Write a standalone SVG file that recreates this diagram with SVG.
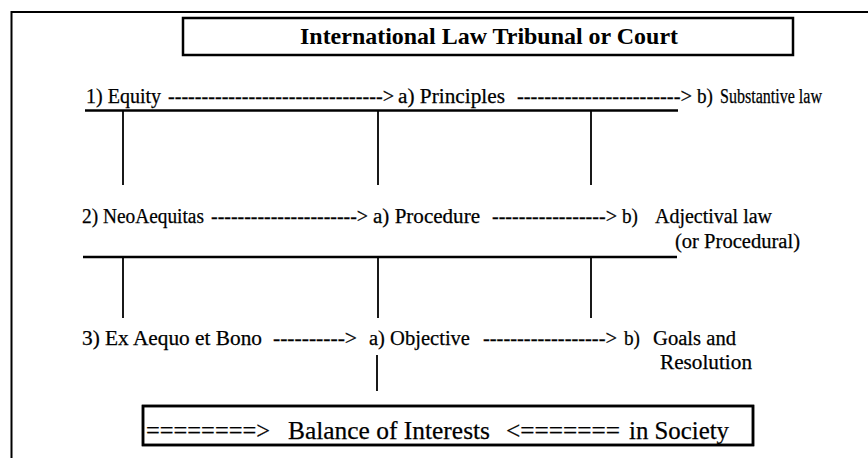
<svg xmlns="http://www.w3.org/2000/svg" width="868" height="458" viewBox="0 0 868 458">
  <style>
    .t { font-family: "Liberation Serif", "Times New Roman", serif; font-size: 20.5px; fill: #000; stroke: #000; stroke-width: 0.25; }
    .title { font-family: "Liberation Serif", "Times New Roman", serif; font-size: 23px; font-weight: bold; fill: #000; }
    .big { font-family: "Liberation Serif", "Times New Roman", serif; font-size: 25.5px; fill: #000; stroke: #000; stroke-width: 0.25; }
    .box { fill: #fff; stroke: #000; stroke-width: 2.5; }
    .bar { stroke: #000; stroke-width: 2.6; fill: none; }
    .rule { stroke: #000; stroke-width: 1.8; fill: none; }
    .frame { stroke: #000; stroke-width: 2; fill: none; }
  </style>
  <defs>
    <clipPath id="bottomClip">
      <rect x="143" y="406" width="610" height="38"/>
    </clipPath>
  </defs>

  <rect x="0" y="0" width="868" height="458" fill="#fff"/>

  <!-- outer frame: top and left edges only -->
  <path class="frame" d="M11.5 458 V12 H868"/>

  <!-- heading -->
  <g id="title">
    <rect class="box" x="183" y="18" width="610" height="37"/>
    <text class="title" x="300" y="43.5" textLength="378" lengthAdjust="spacingAndGlyphs">International Law Tribunal or Court</text>
  </g>

  <!-- row 1 -->
  <g id="row1">
    <text class="t" x="86" y="102.5" textLength="75" lengthAdjust="spacingAndGlyphs">1) Equity</text>
    <text class="t" x="168" y="102.5" textLength="226" lengthAdjust="spacingAndGlyphs">--------------------------------&gt;</text>
    <text class="t" x="398" y="102.5" textLength="107" lengthAdjust="spacingAndGlyphs">a) Principles</text>
    <text class="t" x="517" y="102.5" textLength="175" lengthAdjust="spacingAndGlyphs">------------------------&gt;</text>
    <text class="t" x="697" y="102.5" textLength="16" lengthAdjust="spacingAndGlyphs">b)</text>
    <text class="t" x="720" y="102.5" textLength="102" lengthAdjust="spacingAndGlyphs">Substantive law</text>
  </g>

  <!-- row 2 -->
  <g id="row2">
    <text class="t" x="82" y="223" textLength="122" lengthAdjust="spacingAndGlyphs">2) NeoAequitas</text>
    <text class="t" x="211" y="223" textLength="157" lengthAdjust="spacingAndGlyphs">----------------------&gt;</text>
    <text class="t" x="373" y="223" textLength="107" lengthAdjust="spacingAndGlyphs">a) Procedure</text>
    <text class="t" x="492" y="223" textLength="125" lengthAdjust="spacingAndGlyphs">-----------------&gt;</text>
    <text class="t" x="622" y="223" textLength="16" lengthAdjust="spacingAndGlyphs">b)</text>
    <text class="t" x="655" y="223" textLength="117" lengthAdjust="spacingAndGlyphs">Adjectival law</text>
    <text class="t" x="675" y="248" textLength="125" lengthAdjust="spacingAndGlyphs">(or Procedural)</text>
  </g>

  <!-- row 3 -->
  <g id="row3">
    <text class="t" x="82" y="345" textLength="180" lengthAdjust="spacingAndGlyphs">3) Ex Aequo et Bono</text>
    <text class="t" x="273" y="345" textLength="84" lengthAdjust="spacingAndGlyphs">----------&gt;</text>
    <text class="t" x="369" y="345" textLength="101" lengthAdjust="spacingAndGlyphs">a) Objective</text>
    <text class="t" x="483" y="345" textLength="134" lengthAdjust="spacingAndGlyphs">------------------&gt;</text>
    <text class="t" x="624" y="345" textLength="16" lengthAdjust="spacingAndGlyphs">b)</text>
    <text class="t" x="653" y="345" textLength="83" lengthAdjust="spacingAndGlyphs">Goals and</text>
    <text class="t" x="660" y="369" textLength="92" lengthAdjust="spacingAndGlyphs">Resolution</text>
  </g>

  <!-- connecting bars and uprights -->
  <g id="connectors">
    <line class="bar" x1="85" y1="110.5" x2="678" y2="110.5"/>
    <line class="rule" x1="123" y1="111" x2="123" y2="185"/>
    <line class="rule" x1="378" y1="111" x2="378" y2="185"/>
    <line class="rule" x1="591" y1="111" x2="591" y2="185"/>

    <line class="bar" x1="83" y1="257" x2="677" y2="257"/>
    <line class="rule" x1="123" y1="257" x2="123" y2="318"/>
    <line class="rule" x1="378" y1="257" x2="378" y2="318"/>
    <line class="rule" x1="591" y1="257" x2="591" y2="318"/>

    <line class="rule" x1="377" y1="355" x2="377" y2="391"/>
  </g>

  <!-- result box -->
  <g id="balance">
    <rect class="box" x="143" y="406" width="610" height="39"/>
    <g clip-path="url(#bottomClip)">
      <text class="big" x="146" y="438.5" textLength="124" lengthAdjust="spacingAndGlyphs">========&gt;</text>
      <text class="big" x="288" y="438.5" textLength="202" lengthAdjust="spacingAndGlyphs">Balance of Interests</text>
      <text class="big" x="506" y="438.5" textLength="114" lengthAdjust="spacingAndGlyphs">&lt;=======</text>
      <text class="big" x="629" y="438.5" textLength="100" lengthAdjust="spacingAndGlyphs">in Society</text>
    </g>
    <rect x="143" y="406" width="610" height="39" fill="none" stroke="#000" stroke-width="2.5"/>
  </g>
</svg>
